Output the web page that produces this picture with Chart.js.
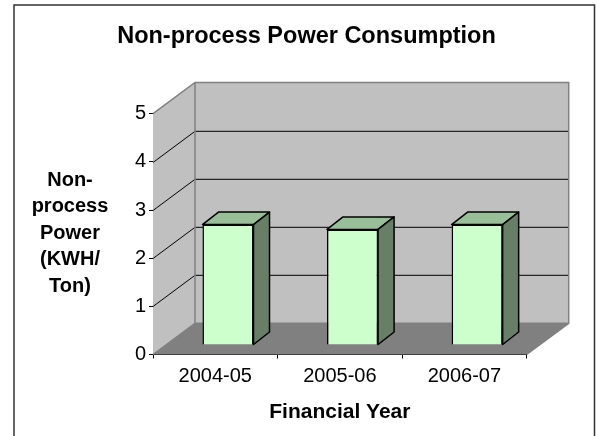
<!DOCTYPE html>
<html>
<head>
<meta charset="utf-8">
<title>Non-process Power Consumption</title>
<script src="https://cdn.jsdelivr.net/npm/chart.js@4/dist/chart.umd.min.js"></script>
<style>
  html, body { margin: 0; padding: 0; background: #fff; overflow: hidden; }
  canvas { display: block; }
</style>
</head>
<body>
<canvas id="power-chart" width="597" height="436"></canvas>
<script>
// data
const years = ['2004-05', '2005-06', '2006-07'];
const powerValues = [2.5, 2.4, 2.5];
const yTicks = [0, 1, 2, 3, 4, 5];
const chartTitle = 'Non-process Power Consumption';
const yTitleLines = ['Non-', 'process', 'Power', '(KWH/', 'Ton)'];
const xTitle = 'Financial Year';

const FONT = "'Liberation Sans', Arial, sans-serif";

// 3d look: depth of the box and where the bars sit in it
const depthX = 42, depthY = 31.2;
const barShiftX = 12.7, barShiftY = 9.5;
const barDepthX = 16, barDepthY = 12.5;

function poly(ctx, pts, fill, stroke, lw) {
    ctx.beginPath();
    pts.forEach((p, i) => i ? ctx.lineTo(p[0], p[1]) : ctx.moveTo(p[0], p[1]));
    ctx.closePath();
    if (fill) { ctx.fillStyle = fill; ctx.fill(); }
    if (stroke) { ctx.strokeStyle = stroke; ctx.lineWidth = lw; ctx.lineJoin = 'round'; ctx.stroke(); }
}

const boxPlugin = {
    id: 'box3d',
    beforeDatasetsDraw(chart) {
        const ctx = chart.ctx;
        const { left, right, top, bottom } = chart.chartArea;
        const y = chart.scales.y;

        ctx.save();
        // back wall, side wall, floor
        poly(ctx, [[left + depthX, top - depthY], [right + depthX, top - depthY], [right + depthX, bottom - depthY], [left + depthX, bottom - depthY]], '#C0C0C0');
        poly(ctx, [[left, top], [left + depthX, top - depthY], [left + depthX, bottom - depthY], [left, bottom]], '#C0C0C0');
        poly(ctx, [[left, bottom], [left + depthX, bottom - depthY], [right + depthX, bottom - depthY], [right, bottom]], '#808080');

        // gridlines run along the side wall and the back wall
        ctx.lineWidth = 1;
        ctx.strokeStyle = '#000';
        yTicks.slice(1, -1).forEach(v => {
            const py = Math.round(y.getPixelForValue(v)) + 0.5;
            ctx.beginPath();
            ctx.moveTo(left, py);
            ctx.lineTo(left + depthX, py - depthY);
            ctx.lineTo(right + depthX, py - depthY);
            ctx.stroke();
        });

        // wall edges
        ctx.strokeStyle = '#808080';
        ctx.lineWidth = 1.5;
        ctx.beginPath();
        ctx.moveTo(left, top);
        ctx.lineTo(left + depthX, top - depthY);
        ctx.lineTo(right + depthX, top - depthY);
        ctx.lineTo(right + depthX, bottom - depthY);
        ctx.lineTo(right, bottom);
        ctx.moveTo(left + depthX, top - depthY);
        ctx.lineTo(left + depthX, bottom - depthY);
        ctx.lineTo(left, bottom);
        ctx.moveTo(left + depthX, bottom - depthY);
        ctx.lineTo(right + depthX, bottom - depthY);
        ctx.stroke();
        ctx.restore();

        // the bars themselves stand a bit inside the box
        ctx.save();
        ctx.translate(barShiftX, -barShiftY);
    },
    afterDatasetsDraw(chart) {
        const ctx = chart.ctx;
        chart.getDatasetMeta(0).data.forEach(bar => {
            const l = bar.x - bar.width / 2, r = bar.x + bar.width / 2;
            poly(ctx, [[l, bar.y], [l + barDepthX, bar.y - barDepthY], [r + barDepthX, bar.y - barDepthY], [r, bar.y]], '#99BF99', '#000', 1.5);
            poly(ctx, [[r, bar.y], [r + barDepthX, bar.y - barDepthY], [r + barDepthX, bar.base - barDepthY], [r, bar.base]], '#667F66', '#000', 1.5);
        });
        ctx.restore();
    },
    afterDraw(chart) {
        const ctx = chart.ctx;
        ctx.save();
        // outer frame, bottom edge is cut off by the picture
        ctx.strokeStyle = '#333';
        ctx.lineWidth = 1.5;
        ctx.strokeRect(14, 5, 580.5, 440);

        ctx.fillStyle = '#000';
        ctx.textAlign = 'center';
        ctx.textBaseline = 'middle';
        ctx.font = 'bold 23.5px ' + FONT;
        ctx.fillText(chartTitle, 306.5, 36.5);
        ctx.font = 'bold 20px ' + FONT;
        yTitleLines.forEach((line, i) => ctx.fillText(line, 70, 180 + i * 26.6));
        ctx.restore();
    }
};

new Chart(document.getElementById('power-chart').getContext('2d'), {
    type: 'bar',
    data: {
        labels: years,
        datasets: [{
            data: powerValues,
            backgroundColor: '#CCFFCC',
            borderColor: '#000',
            borderWidth: 1.5,
            barPercentage: 0.41,
            categoryPercentage: 1,
            clip: false
        }]
    },
    options: {
        responsive: false,
        animation: false,
        layout: { padding: { left: 0, top: 113.7, right: 70.3, bottom: 0 } },
        plugins: {
            legend: { display: false },
            tooltip: { enabled: false },
            title: { display: false }
        },
        scales: {
            x: {
                afterFit(scale) { scale.height = 81.5; },
                grid: { drawOnChartArea: false, tickLength: 4, color: '#000', lineWidth: 1 },
                border: { color: '#000', width: 1 },
                ticks: { color: '#000', font: { family: FONT, size: 20 }, padding: 6, maxRotation: 0 },
                title: { display: true, text: xTitle, color: '#000', font: { family: FONT, size: 21, weight: 'bold' }, padding: { top: 0, bottom: 11 } }
            },
            y: {
                min: 0,
                max: 5,
                afterFit(scale) { scale.width = 153; },
                afterBuildTicks(scale) { scale.ticks = yTicks.map(v => ({ value: v })); },
                grid: { drawOnChartArea: false, tickLength: 4, color: '#000', lineWidth: 1 },
                border: { color: '#000', width: 1 },
                ticks: { color: '#000', font: { family: FONT, size: 20 }, padding: 3 }
            }
        }
    },
    plugins: [boxPlugin]
});
</script>
</body>
</html>
